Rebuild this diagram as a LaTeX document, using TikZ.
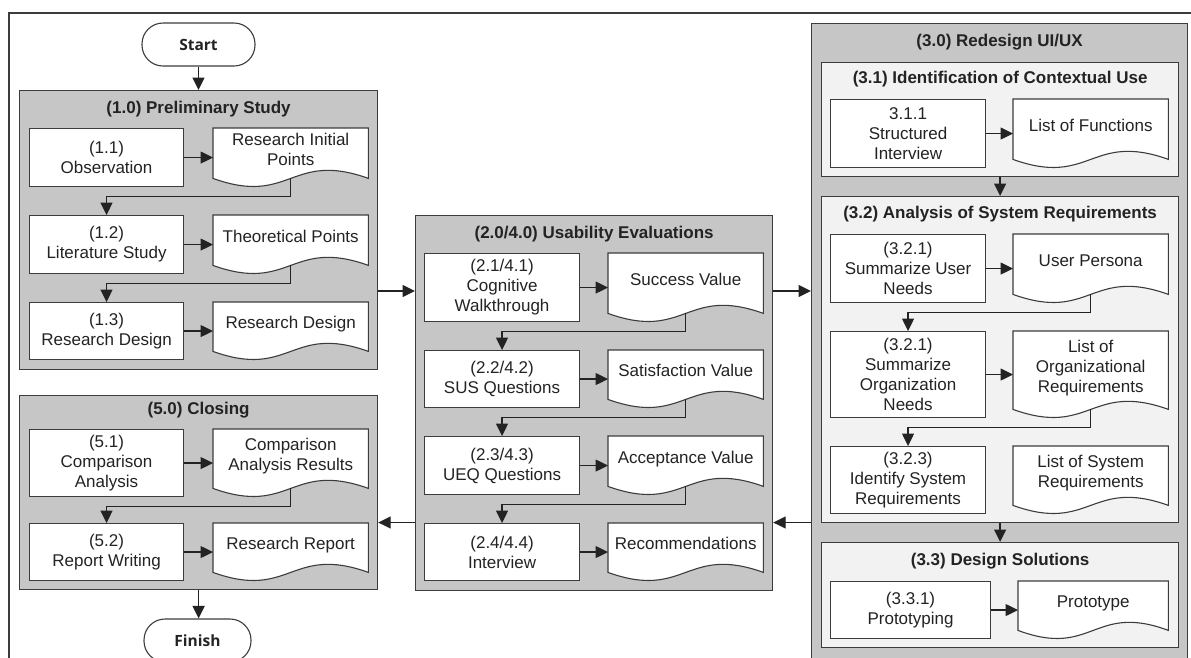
\documentclass[tikz,border=0pt]{standalone}
\usepackage{fontspec}
\setmainfont{Liberation Sans}
\newfontfamily\termfont{Open Sans}
\usetikzlibrary{arrows.meta,calc}
\pgfdeclarelayer{bg}\pgfdeclarelayer{mid}\pgfsetlayers{bg,mid,main}
\definecolor{grp}{RGB}{198,198,198}
\definecolor{lgt}{RGB}{242,242,242}
\definecolor{lc}{RGB}{60,60,60}
\definecolor{tc}{RGB}{35,35,35}
\tikzset{
 base/.style={font=\fontsize{17}{20}\selectfont, text=tc, align=center, inner sep=0pt, anchor=north west},
 proc/.style={base, draw=lc, fill=white, line width=1.1pt},
 docn/.style={base, text depth=8pt},
 docline/.style={draw=lc, fill=white, line width=1.1pt},
 grpbox/.style={draw=lc, fill=grp, line width=1.2pt, anchor=north west, inner sep=0pt},
 subbox/.style={grpbox, fill=lgt},
 ttl/.style={font=\bfseries\fontsize{17}{20}\selectfont, text=tc, anchor=center, inner sep=0pt},
 term/.style={draw=lc, fill=white, line width=1.1pt, rounded corners=21pt, font=\termfont\bfseries\fontsize{15.5}{18}\selectfont, text=tc, inner sep=0pt},
 arr/.style={draw=tc, line width=1.3pt, -{Triangle[length=12.5pt,width=12pt]}},
 frameline/.style={draw=lc, line width=1.1pt},
}
\newcommand\mkproc[6]{\node[proc, minimum width=#4pt, minimum height=#5pt] (#1) at (#2,#3) {#6};}
\newcommand\mkdoc[6]{\node[docn, minimum width=#4pt, minimum height={#5pt-8pt}] (#1) at (#2,#3) {#6};
\begin{pgfonlayer}{mid}
\path[docline] (#1.south west) -- (#1.north west) -- (#1.north east) -- (#1.south east) .. controls ($(#1.south)+(0,-28)$) and ($(#1.south)+(0,28)$) .. (#1.south west) -- cycle;
\end{pgfonlayer}}
\newcommand\mkgrp[6]{\begin{pgfonlayer}{bg}\node[#6, minimum width=#4pt, minimum height=#5pt] (#1) at (#2,#3) {};\end{pgfonlayer}}
\begin{document}
\begin{tikzpicture}[x=1pt,y=-1pt]
\useasboundingbox (0,0) rectangle (1191,657);
% outer frame
\coordinate (fA) at (9,700);
\coordinate (fB) at (9,13);
\coordinate (fC) at (1210,13);
\draw[frameline] (fA) -- (fB) -- (fC);

% groups
\mkgrp{g1}{19}{90}{358}{279}{grpbox}
\mkgrp{g5}{19}{395}{358}{194}{grpbox}
\mkgrp{g2}{415}{215}{357}{375}{grpbox}
\mkgrp{g3}{811}{23}{376}{660}{grpbox}
\mkgrp{g31}{821}{62}{357}{114}{subbox}
\mkgrp{g32}{821}{196}{357}{326}{subbox}
\mkgrp{g33}{821}{542}{357}{105}{subbox}

\node[ttl] (t1) at ($(g1.north)+(0,19)$) {(1.0) Preliminary Study};
\node[ttl] (t5) at ($(g5.north)+(0,15)$) {(5.0) Closing};
\node[ttl] (t2) at ($(g2.north)+(0,19)$) {(2.0/4.0) Usability Evaluations};
\node[ttl] (t3) at ($(g3.north)+(0,19)$) {(3.0) Redesign UI/UX};
\node[ttl] (t31) at ($(g31.north)+(0,17)$) {(3.1) Identification of Contextual Use};
\node[ttl] (t32) at ($(g32.north)+(0,18)$) {(3.2) Analysis of System Requirements};
\node[ttl] (t33) at ($(g33.north)+(0,19)$) {(3.3) Design Solutions};

% terminals
\node[term, minimum width=113pt, minimum height=43pt] (start) at (198.5,44.5) {Start};
\node[term, minimum width=107pt, minimum height=43pt] (fin) at (197.5,640.5) {Finish};

% 1.0
\mkproc{p11}{29}{128}{154}{58}{(1.1)\\Observation}
\mkdoc{d11}{213}{128}{155}{58}{Research Initial\\Points}
\mkproc{p12}{29}{215}{154}{58}{(1.2)\\Literature Study}
\mkdoc{d12}{213}{215}{155}{58}{Theoretical Points}
\mkproc{p13}{29}{302}{154}{57}{(1.3)\\Research Design}
\mkdoc{d13}{213}{302}{155}{57}{Research Design}

% 5.0
\mkproc{p51}{29}{429}{154}{67}{(5.1)\\Comparison\\Analysis}
\mkdoc{d51}{213}{429}{155}{67}{Comparison\\Analysis Results}
\mkproc{p52}{29}{523}{154}{57}{(5.2)\\Report Writing}
\mkdoc{d52}{213}{523}{155}{57}{Research Report}

% 2.0
\mkproc{p21}{424}{253}{155}{68}{(2.1/4.1)\\Cognitive\\Walkthrough}
\mkdoc{d21}{608}{253}{155}{68}{Success Value}
\mkproc{p22}{424}{350}{155}{57}{(2.2/4.2)\\SUS Questions}
\mkdoc{d22}{608}{350}{155}{57}{Satisfaction Value}
\mkproc{p23}{424}{436}{155}{58}{(2.3/4.3)\\UEQ Questions}
\mkdoc{d23}{608}{436}{155}{58}{Acceptance Value}
\mkproc{p24}{424}{523}{155}{57}{(2.4/4.4)\\Interview}
\mkdoc{d24}{608}{523}{155}{57}{Recommendations}

% 3.0
\mkproc{p311}{830}{99}{155}{68}{3.1.1\\Structured\\Interview}
\mkdoc{d311}{1013}{99}{155}{68}{List of Functions}
\mkproc{p321}{830}{234}{155}{68}{(3.2.1)\\Summarize User\\Needs}
\mkdoc{d321}{1013}{234}{155}{68}{User Persona}
\mkproc{p322}{830}{331}{155}{86}{(3.2.1)\\Summarize\\Organization\\Needs}
\mkdoc{d322}{1013}{331}{155}{86}{List of\\Organizational\\Requirements}
\mkproc{p323}{830}{446}{155}{67}{(3.2.3)\\Identify System\\Requirements}
\mkdoc{d323}{1013}{446}{155}{67}{List of System\\Requirements}
\mkproc{p331}{830}{581}{160}{57}{(3.3.1)\\Prototyping}
\mkdoc{d331}{1018}{581}{150}{57}{Prototype}

% connectors
\draw[arr] (start.south) -- (start.south |- g1.north);
\foreach \p/\d in {p11/d11,p12/d12,p13/d13,p51/d51,p52/d52,p21/d21,p22/d22,p23/d23,p24/d24,p311/d311,p321/d321,p322/d322,p331/d331}
  {\draw[arr] (\p.east) -- (\p.east -| \d.west);}
\foreach \d/\p in {d11/p12,d12/p13,d51/p52,d21/p22,d22/p23,d23/p24,d321/p322,d322/p323}
  {\draw[arr] (\d.south) -- ++(0,18) -| (\p.north);}
\draw[arr] (g5.south) -- (g5.south |- fin.north);
\coordinate (yA) at (0,291);
\coordinate (yB) at (0,522.5);
\draw[arr] (g1.east |- yA) -- (g2.west |- yA);
\draw[arr] (g2.east |- yA) -- (g3.west |- yA);
\draw[arr] (g3.west |- yB) -- (g2.east |- yB);
\draw[arr] (g2.west |- yB) -- (g5.east |- yB);
\draw[arr] (g31.south) -- (g32.north);
\draw[arr] (g32.south) -- (g33.north);
\end{tikzpicture}
\end{document}
